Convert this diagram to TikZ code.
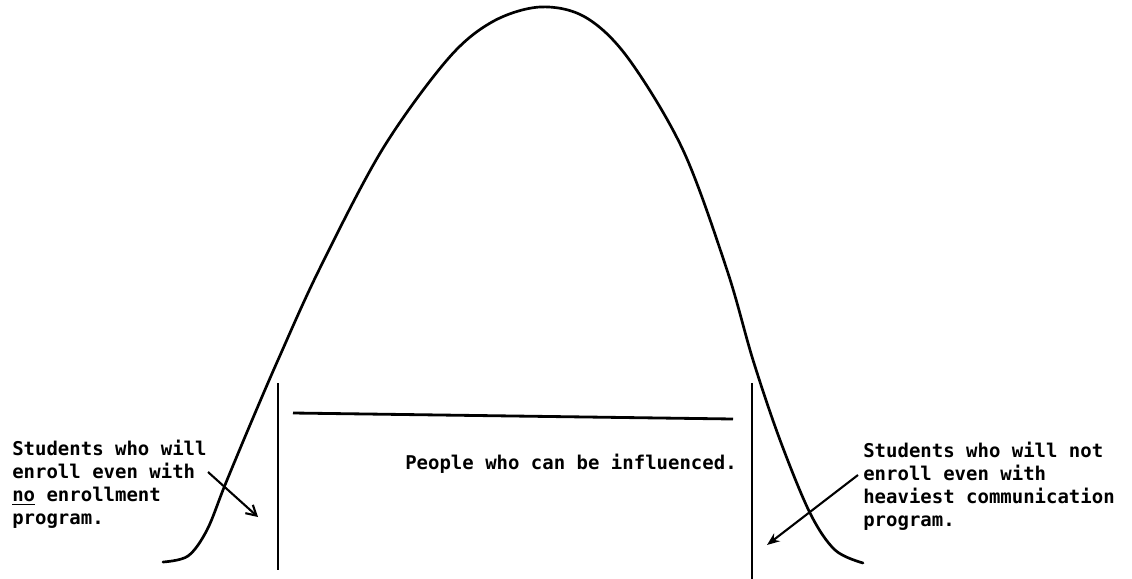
\documentclass[tikz,border=0pt]{standalone}
\usepackage{fontspec}
\newfontfamily\typefont{DejaVu Sans Mono}
\usetikzlibrary{arrows.meta}

\begin{document}
\begin{tikzpicture}[x=0.025cm, y=-0.025cm,
  note/.style={font=\typefont\bfseries\fontsize{13.5}{16.4}\selectfont,
               align=left, inner sep=0pt, anchor=north west},
  caption/.style={font=\typefont\bfseries\fontsize{13.5}{16.4}\selectfont,
                  inner sep=0pt, anchor=base},
  curve/.style={line width=1.9pt, line cap=round, line join=round},
  divider/.style={line width=2pt},
  arrow/.style={-{Stealth[length=9pt,width=7pt]}, line width=1.5pt},
  barb/.style={-{Straight Barb[length=7pt,width=8pt]}, line width=1.5pt}
]
\useasboundingbox (0,0) rectangle (1132,579);

\draw[curve] plot[smooth, tension=0.55] coordinates {
  (163,562) (188,556) (207,530) (225,485) (250,425) (278,360) (319,270)
  (382,150) (447,60) (492,22) (540,7) (585,17) (628,58) (683,150)
  (727,270) (753,360) (780,440) (810,513) (835,550) (863,563)};

\coordinate (ltop) at (278,383);
\coordinate (lbot) at (278,570);
\coordinate (rtop) at (752,383);
\coordinate (rbot) at (752,579);
\coordinate (bar1) at (293,413);
\coordinate (bar2) at (733,419);
\draw[divider] (ltop) -- (lbot);
\draw[divider] (rtop) -- (rbot);
\draw[divider] (bar1) -- (bar2);

\node[caption] (infl) at (571,469) {People who can be influenced.};

\node[note] (left) at (12,440) {Students who will\\enroll even with\\\underline{no} enrollment\\program.};
\node[note] (right) at (863,442) {Students who will not\\enroll even with\\heaviest communication\\program.};

\coordinate (lfrom) at (208,472);
\coordinate (lto) at (258,517);
\coordinate (rfrom) at (858,475);
\coordinate (rto) at (767,545);
\draw[barb] (lfrom) -- (lto);
\draw[arrow] (rfrom) -- (rto);
\end{tikzpicture}
\end{document}
